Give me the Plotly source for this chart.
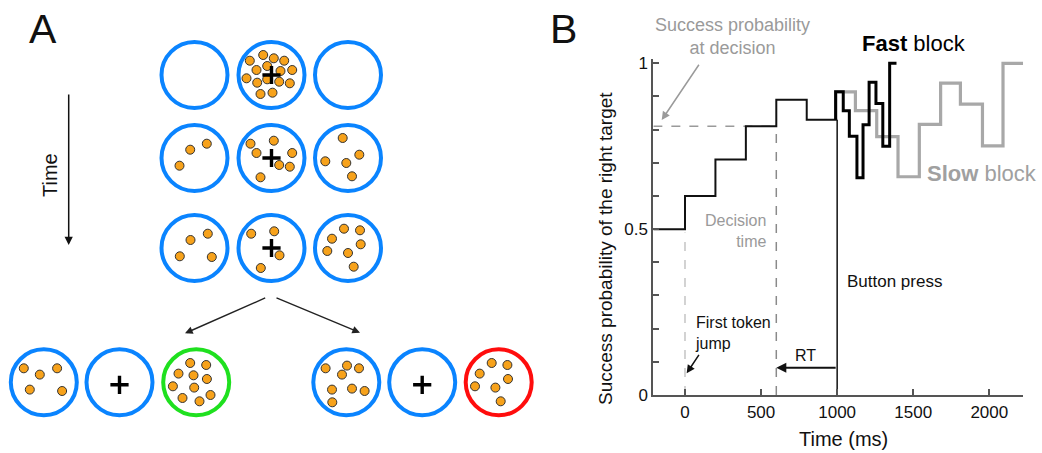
import plotly.graph_objects as go

FONT = "Liberation Sans, Arial, sans-serif"

# ---------------- Panel B data ----------------
main_t = [-208, 0, 200, 400, 600, 800, 1000]
main_p = [0.5, 0.6, 0.71, 0.81, 0.89, 0.83, 0.83]

fast_t = [990, 990, 1040, 1080, 1130, 1170, 1210, 1255, 1300, 1345, 1390]
fast_p = [0.83, 0.914, 0.857, 0.78, 0.655, 0.815, 0.943, 0.879, 0.75, 1.0, 1.0]

slow_t = [990, 990, 1120, 1260, 1400, 1540, 1680, 1810, 1955, 2090, 2222]
slow_p = [0.83, 0.914, 0.857, 0.779, 0.658, 0.816, 0.94, 0.877, 0.751, 1.0, 1.0]

first_jump_t = 0
decision_t = 600
decision_p = 0.81
button_t = 1000
button_p = 0.83

x_ticks = [0, 500, 1000, 1500, 2000]
y_ticks = [0, 0.1, 0.2, 0.3, 0.4, 0.5, 0.6, 0.7, 0.8, 0.9, 1.0]
y_ticktext = ["0", "", "", "", "", "0.5", "", "", "", "", "1"]

# ---------------- Panel A data (pixel layout of the schematic) ----------------
grid_cols = [194.5, 271.5, 348]
grid_rows = [75, 158, 248]
bottom_cols = [43.8, 119.5, 196.2, 346.3, 422.2, 498.7]
bottom_row = 382.3
ring_r = 33
ring_colors_bottom = ["#0a84ff", "#0a84ff", "#1fe01f", "#0a84ff", "#0a84ff", "#ff0d0d"]

# token offsets (dx, dy) per circle, grid circles row-major
tokens_grid = [
    [],
    [(-8.3, -20), (2.3, -16.7), (12.7, -14.3), (-21.7, -14.3), (-15, -5), (-4.3, -9),
     (9, -4), (20.7, -5), (-25, 3.3), (-14.3, 7.7), (-4.3, 4.3), (7.7, 6.7),
     (18.3, 8.3), (-11, 19), (1, 17.7)],
    [],
    [(12.3, -14.3), (-4.3, -8.3), (-15, 7.7)],
    [(-21, -14.3), (2.3, -17.3), (-15, -5), (20.7, -5), (7.7, 7), (18.3, 8.7), (-11, 19.3)],
    [(-5.3, -20), (11.3, -3.3), (-22.7, 3.3), (-1.7, 5), (4, 18.3)],
    [(13.3, -14.3), (-4, -8), (-14.7, 8.3), (17.3, 9)],
    [(-20.3, -14.3), (2.7, -16.7), (8, 7.3), (-10.7, 20)],
    [(-4, -19.3), (12, -17.7), (-16, -9.3), (12.7, -3.7), (-20.7, 3), (0, 5), (5.7, 18.7)],
]
tokens_bottom = [
    [(-20, -14), (-4, -7.7), (13.3, -14), (-14, 7.3), (18.3, 8.7)],
    [],
    [(-6, -19.3), (10, -17.3), (-17.7, -8.7), (-2.7, -7), (10.7, -3.3), (-23.3, 4),
     (-2, 5.3), (-13.7, 15.7), (3.3, 19), (14.3, 12.7)],
    [(-20.7, -14), (0.7, -16.7), (12.7, -14), (-4.3, -7.7), (-14.3, 7.3), (5.7, 6.3),
     (18.3, 8.7), (-14, 20)],
    [],
    [(-7, -19.3), (8.7, -17.3), (-19, -8.7), (9.3, -3.3), (-23.7, 4), (-3.3, 5.3), (2, 19)],
]
cross_grid = [1, 4, 7]
cross_bottom = [1, 4]

# ---------------- Figure ----------------
fig = go.Figure()

# Panel B traces
fig.add_trace(go.Scatter(x=[-208, decision_t], y=[decision_p, decision_p], mode="lines",
                         line=dict(color="#9a9a9a", width=1.5, dash="dash"), hoverinfo="skip"))
fig.add_trace(go.Scatter(x=[decision_t, decision_t], y=[0, decision_p], mode="lines",
                         line=dict(color="#8a8a8a", width=1.5, dash="dash"), hoverinfo="skip"))
fig.add_trace(go.Scatter(x=[first_jump_t, first_jump_t], y=[0, 0.49], mode="lines",
                         line=dict(color="#c4c4c4", width=1.5, dash="dash"), hoverinfo="skip"))
fig.add_trace(go.Scatter(x=[button_t, button_t], y=[0, button_p], mode="lines",
                         line=dict(color="#111111", width=1.5), hoverinfo="skip"))
fig.add_trace(go.Scatter(x=slow_t, y=slow_p, mode="lines", line_shape="hv",
                         line=dict(color="#a8a8a8", width=3.2), hoverinfo="skip"))
fig.add_trace(go.Scatter(x=main_t, y=main_p, mode="lines", line_shape="hv",
                         line=dict(color="#111111", width=2), hoverinfo="skip"))
fig.add_trace(go.Scatter(x=fast_t, y=fast_p, mode="lines", line_shape="hv",
                         line=dict(color="#000000", width=3), hoverinfo="skip"))

# Panel A tokens
tx, ty = [], []
for i, offs in enumerate(tokens_grid):
    cx = grid_cols[i % 3]
    cy = grid_rows[i // 3]
    for dx, dy in offs:
        tx.append(cx + dx)
        ty.append(cy + dy)
for i, offs in enumerate(tokens_bottom):
    cx = bottom_cols[i]
    for dx, dy in offs:
        tx.append(cx + dx)
        ty.append(bottom_row + dy)
fig.add_trace(go.Scatter(x=tx, y=ty, mode="markers", xaxis="x2", yaxis="y2",
                         marker=dict(size=9, color="#f7a21b", line=dict(color="#333333", width=1)),
                         hoverinfo="skip"))

cx_list = [grid_cols[i % 3] for i in cross_grid] + [bottom_cols[i] for i in cross_bottom]
cy_list = [grid_rows[i // 3] for i in cross_grid] + [bottom_row + 2.5 for i in cross_bottom]
fig.add_trace(go.Scatter(x=cx_list, y=cy_list, mode="markers", xaxis="x2", yaxis="y2",
                         marker=dict(symbol="cross-thin", size=13, line=dict(color="#000000", width=3.4)),
                         hoverinfo="skip"))

shapes = []
for r in grid_rows:
    for c in grid_cols:
        shapes.append(dict(type="circle", xref="x2", yref="y2", x0=c - ring_r, x1=c + ring_r,
                           y0=r - ring_r, y1=r + ring_r, line=dict(color="#0a84ff", width=4)))
for c, col in zip(bottom_cols, ring_colors_bottom):
    shapes.append(dict(type="circle", xref="x2", yref="y2", x0=c - ring_r, x1=c + ring_r,
                       y0=bottom_row - ring_r, y1=bottom_row + ring_r, line=dict(color=col, width=4)))

ann = []
def arrow(x, y, ax, ay, ref, color="#111111", width=1.5, size=1.1):
    ann.append(dict(x=x, y=y, ax=ax, ay=ay, xref=ref[0], yref=ref[1], axref=ref[0], ayref=ref[1],
                    text="", showarrow=True, arrowhead=2, arrowsize=size, arrowwidth=width,
                    arrowcolor=color, standoff=0, startstandoff=0))

def text(x, y, s, ref, size, color="#111111", xanchor="center", align="center", angle=0):
    ann.append(dict(x=x, y=y, xref=ref[0], yref=ref[1], text=s, showarrow=False,
                    font=dict(family=FONT, size=size, color=color), xanchor=xanchor,
                    yanchor="middle", align=align, textangle=angle))

P = ("x2", "y2")
D = ("x", "y")
# Panel A
text(43, 29, "A", P, 41)
text(563, 29, "B", P, 41)
arrow(68.7, 245, 68.7, 93, P, width=1.5)
text(50, 175, "Time", P, 20, angle=-90)
arrow(185, 333.3, 266.7, 297.3, P, color="#222222", width=1.4)
arrow(360, 332.7, 275, 297.3, P, color="#222222", width=1.4)

# Panel B text (labels above the plot area are placed in page pixels)
text(605, 249, "Success probability of the right target", P, 19, angle=-90)
text(843, 439, "Time (ms)", P, 20)
text(732, 36, "Success probability<br>at decision", P, 18, color="#9a9a9a")
arrow(-153, 0.829, 98, 1.0, D, color="#9a9a9a", width=1.5)
text(914, 43, "<b>Fast</b> block", P, 22, color="#000000")
text(1952, 0.669, "<b>Slow</b> block", D, 22, color="#a0a0a0")
text(545, 0.494, "Decision<br>time", D, 16, color="#9a9a9a", xanchor="right", align="right")
text(1052, 0.342, "Button press", D, 17, xanchor="left", align="left")
text(50, 0.186, "First token<br>jump", D, 16, xanchor="left", align="left")
arrow(11, 0.0654, 98, 0.1256, D, width=1.5)
text(790, 0.1176, "RT", D, 16)
arrow(decision_t, 0.0823, button_t, 0.0823, D, width=2, size=1.0)

W, H = 1042, 453
fig.update_layout(
    template="none",
    width=W, height=H, margin=dict(l=0, r=0, t=0, b=0, pad=0, autoexpand=False),
    paper_bgcolor="white", plot_bgcolor="rgba(0,0,0,0)",
    showlegend=False, shapes=shapes, annotations=ann,
    font=dict(family=FONT, color="#111111"),
    xaxis=dict(domain=[653.35 / W, 1023.1 / W], range=[-208, 2222], anchor="y", automargin=False,
               showgrid=False, zeroline=False, showline=True, linecolor="#555555", linewidth=2,
               ticks="inside", ticklen=6, tickwidth=1.5, tickcolor="#555555",
               ticklabelstandoff=1,
               tickvals=x_ticks, tickfont=dict(size=17, family=FONT, color="#111111")),
    yaxis=dict(domain=[(H - 395) / H, (H - 59.3) / H], range=[0, 1.012], anchor="x", automargin=False,
               showgrid=False, zeroline=False, showline=True, linecolor="#555555", linewidth=2,
               ticks="inside", ticklen=6, tickwidth=1.5, tickcolor="#555555",
               tickvals=y_ticks, ticktext=y_ticktext,
               tickfont=dict(size=17, family=FONT, color="#111111")),
    xaxis2=dict(domain=[0, 1], range=[0, W], anchor="y2", visible=False, fixedrange=True, automargin=False),
    yaxis2=dict(domain=[0, 1], range=[H, 0], anchor="x2", visible=False, fixedrange=True, automargin=False),
)

fig.write_html("out.html", config={"displayModeBar": False})
